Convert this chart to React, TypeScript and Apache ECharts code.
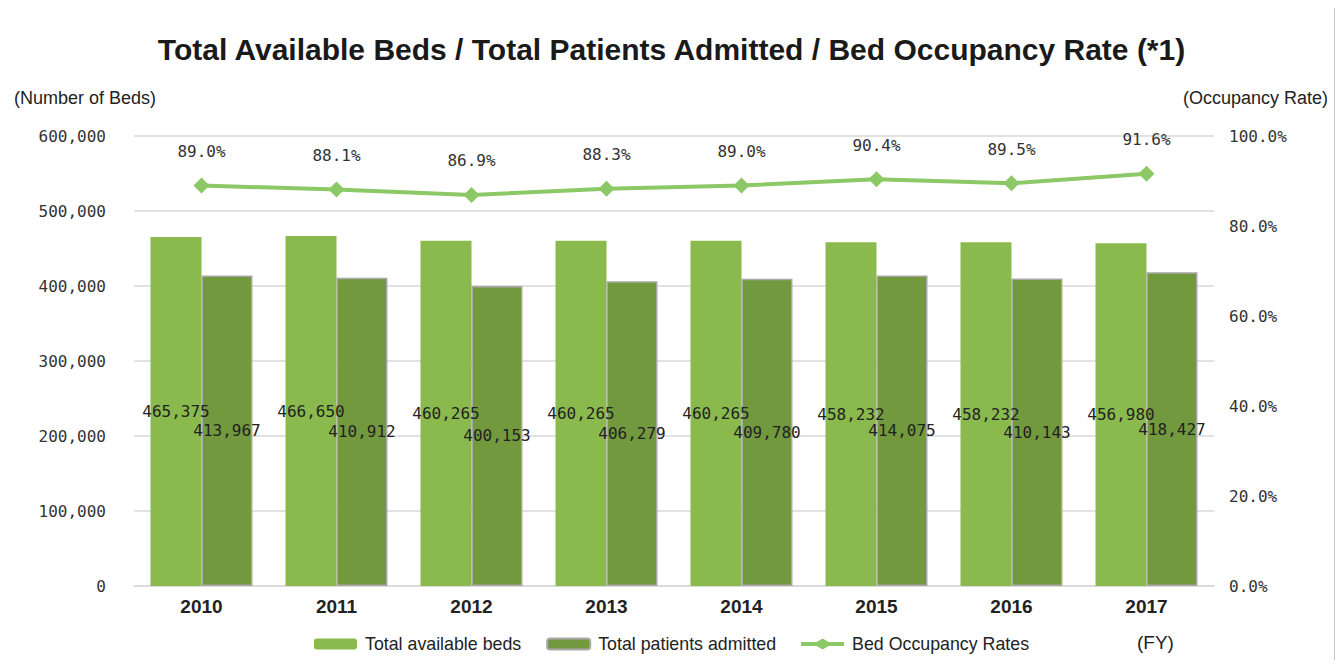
import React, { useEffect, useRef } from "react";
import * as echarts from "echarts";

const years = ["2010", "2011", "2012", "2013", "2014", "2015", "2016", "2017"];
const availableBeds = [465375, 466650, 460265, 460265, 460265, 458232, 458232, 456980];
const patientsAdmitted = [413967, 410912, 400153, 406279, 409780, 414075, 410143, 418427];
const occupancyRate = [89.0, 88.1, 86.9, 88.3, 89.0, 90.4, 89.5, 91.6];

const MONO = "'DejaVu Sans Mono', 'Liberation Mono', monospace";
const SANS = "'Liberation Sans', Arial, sans-serif";

export default function App() {
  const ref = useRef<HTMLDivElement>(null);
  useEffect(() => {
    if (!ref.current) return;
    const chart = echarts.init(ref.current, null, { renderer: "svg" });
    const fmtNum = (v: number) => v.toLocaleString("en-US");
    chart.setOption({
      animation: false,
      backgroundColor: "#ffffff",
      title: {
        text: "Total Available Beds / Total Patients Admitted / Bed Occupancy Rate (*1)",
        left: "center",
        top: 29,
        textStyle: { fontFamily: SANS, fontWeight: "bold", fontSize: 30, color: "#1a1a1a" },
      },
      graphic: [
        {
          type: "text",
          left: 14,
          top: 89,
          style: { text: "(Number of Beds)", fontFamily: SANS, fontSize: 18, fill: "#222" },
        },
        {
          type: "text",
          right: 15,
          top: 89,
          style: { text: "(Occupancy Rate)", fontFamily: SANS, fontSize: 18, fill: "#222" },
        },
        {
          type: "text",
          left: 1137,
          top: 633,
          style: { text: "(FY)", fontFamily: SANS, fontSize: 19, fill: "#222" },
        },
      ],
      legend: {
        left: 314,
        top: 635,
        padding: 0,
        itemWidth: 43,
        itemHeight: 11,
        itemGap: 25,
        textStyle: { fontFamily: SANS, fontSize: 17.8, color: "#222", padding: [0, 0, 0, 3] },
        data: [
          { name: "Total available beds" },
          { name: "Total patients admitted" },
          {
            name: "Bed Occupancy Rates",
            icon: "path://M0,3.5 L15.5,3.5 L21.5,0 L27.5,3.5 L43,3.5 L43,7.5 L27.5,7.5 L21.5,11 L15.5,7.5 L0,7.5 Z",
          },
        ],
      },
      grid: { left: 134, right: 129, top: 136, bottom: 82 },
      xAxis: {
        type: "category",
        data: years,
        axisTick: { show: false },
        axisLine: { show: true, lineStyle: { color: "#d9d9d9", width: 1.5 } },
        axisLabel: {
          fontFamily: SANS,
          fontWeight: "bold",
          fontSize: 19,
          color: "#222",
          margin: 11,
        },
      },
      yAxis: [
        {
          type: "value",
          min: 0,
          max: 600000,
          interval: 100000,
          axisLine: { show: false },
          axisTick: { show: false },
          splitLine: { lineStyle: { color: "#d9d9d9", width: 1.5 } },
          axisLabel: {
            fontFamily: MONO,
            fontSize: 16,
            color: "#333",
            margin: 28,
            formatter: (v: number) => fmtNum(v),
          },
        },
        {
          type: "value",
          min: 0,
          max: 100,
          interval: 20,
          axisLine: { show: false },
          axisTick: { show: false },
          splitLine: { show: false },
          axisLabel: {
            fontFamily: MONO,
            fontSize: 16,
            color: "#333",
            margin: 15,
            formatter: (v: number) => v.toFixed(1) + "%",
          },
        },
      ],
      series: [
        {
          name: "Total available beds",
          type: "bar",
          data: availableBeds,
          barWidth: 51,
          barGap: "0%",
          itemStyle: { color: "#8aba4d" },
          label: {
            show: true,
            position: "inside",
            fontFamily: MONO,
            fontSize: 16,
            color: "#222",
            formatter: (p: any) => fmtNum(p.value),
          },
        },
        {
          name: "Total patients admitted",
          type: "bar",
          data: patientsAdmitted,
          barWidth: 51,
          itemStyle: { color: "#72993e", borderColor: "#a8a8a8", borderWidth: 1.5 },
          label: {
            show: true,
            position: "inside",
            fontFamily: MONO,
            fontSize: 16,
            color: "#222",
            formatter: (p: any) => fmtNum(p.value),
          },
        },
        {
          name: "Bed Occupancy Rates",
          type: "line",
          yAxisIndex: 1,
          data: occupancyRate,
          symbol: "diamond",
          symbolSize: 16,
          lineStyle: { color: "#8cc866", width: 4 },
          itemStyle: { color: "#8cc866" },
          label: {
            show: true,
            position: "top",
            distance: 18,
            fontFamily: MONO,
            fontSize: 16,
            color: "#333",
            formatter: (p: any) => p.value.toFixed(1) + "%",
          },
          z: 5,
        },
      ],
    });
    return () => chart.dispose();
  }, []);
  return (
    <div style={{ position: "relative", width: 1343, height: 668, margin: -8, overflow: "hidden" }}>
      <div ref={ref} style={{ width: 1343, height: 668 }} />
      <div
        style={{
          position: "absolute",
          left: 2,
          top: 4,
          width: 1334,
          height: 700,
          border: "2px solid #c6c6c6",
          pointerEvents: "none",
          boxSizing: "border-box",
          zIndex: 10,
        }}
      />
    </div>
  );
}
